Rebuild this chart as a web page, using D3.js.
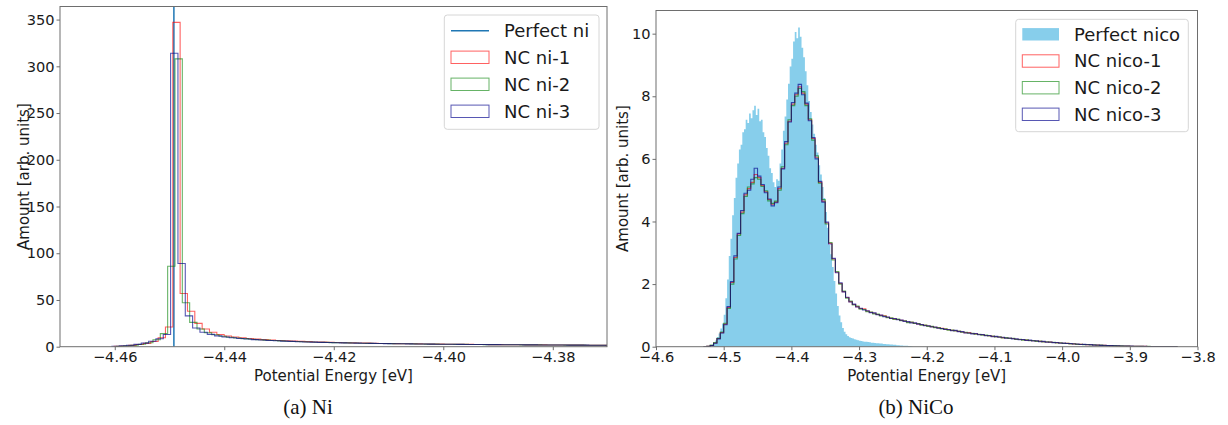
<!DOCTYPE html>
<html>
<head>
<meta charset="utf-8">
<script src="https://cdn.jsdelivr.net/npm/d3@7"></script>
<style>
  html, body { margin: 0; padding: 0; background: #fff; overflow: hidden; }
  svg { display: block; font-family: "DejaVu Sans", sans-serif; }
</style>
</head>
<body>
<svg id="fig" width="1228" height="425"></svg>
<script>
// ---------------- Ni: per-atom potential energy histograms ----------------
const niPerfectEnergy = -4.4492;          // single value of the perfect crystal
const niBinWidth = 0.00134;               // eV
const niNames = ["NC ni-1", "NC ni-2", "NC ni-3"];
const niStarts = [-4.46012, -4.45972, -4.46052];   // left edge of first bin
const niCounts1 = [0.4, 0.8, 1.4, 2.3, 3.6, 5.5, 9.5, 21, 347,
  57, 38, 25, 19, 15.5, 13, 11.5, 10.4, 9.5, 8.8, 8.1, 7.6, 7.1, 6.7, 6.3, 6.0, 5.7, 5.4, 5.1, 4.9,
  4.7, 4.5, 4.3, 4.1, 3.95, 3.8, 3.65, 3.5, 3.4, 3.3, 3.2, 3.1, 3.0, 2.9, 2.8, 2.75, 2.65, 2.6, 2.5,
  2.45, 2.4, 2.3, 2.25, 2.2, 2.15, 2.1, 2.05, 2.0, 1.95, 1.9, 1.85, 1.8, 1.75, 1.7, 1.65, 1.6, 1.55,
  1.5, 1.45, 1.4, 1.35];
const niCounts2 = [0.4, 0.9, 1.5, 2.6, 4.2, 7.5, 14, 86, 308,
  47, 26, 19, 15, 12.8, 11.2, 10.1, 9.3, 8.6, 8.0, 7.5, 7.0, 6.6, 6.2, 5.9, 5.6, 5.3, 5.05, 4.8, 4.6,
  4.4, 4.2, 4.05, 3.9, 3.75, 3.6, 3.5, 3.4, 3.3, 3.2, 3.1, 3.0, 2.9, 2.8, 2.72, 2.65, 2.58, 2.5, 2.44,
  2.38, 2.32, 2.26, 2.2, 2.15, 2.1, 2.05, 2.0, 1.95, 1.9, 1.85, 1.8, 1.76, 1.72, 1.68, 1.64, 1.6, 1.56,
  1.52, 1.48, 1.44, 1.4];
const niCounts3 = [0.5, 1.0, 1.6, 2.5, 3.8, 5.8, 8.5, 13, 314,
  89, 33, 20, 15.5, 13.2, 11.6, 10.4, 9.5, 8.8, 8.2, 7.6, 7.1, 6.7, 6.3, 5.95, 5.65, 5.35, 5.1, 4.85,
  4.65, 4.45, 4.25, 4.1, 3.95, 3.8, 3.65, 3.55, 3.42, 3.32, 3.22, 3.12, 3.02, 2.93, 2.85, 2.77, 2.7,
  2.62, 2.55, 2.48, 2.42, 2.36, 2.3, 2.24, 2.18, 2.13, 2.08, 2.03, 1.98, 1.93, 1.88, 1.84, 1.8, 1.76,
  1.72, 1.68, 1.64, 1.6, 1.56, 1.52, 1.48, 1.44];
const niXDomain = [-4.4700, -4.3701];
const niYDomain = [0, 364];
const niXTicks = [-4.46, -4.44, -4.42, -4.40, -4.38];
const niYTicks = [0, 50, 100, 150, 200, 250, 300, 350];

// ---------------- NiCo: per-atom potential energy histograms ----------------
const nicoPerfectStart = -4.525;
const nicoPerfectBinWidth = 0.0025;
const nicoPerfect = [0.00, 0.01, 0.03, 0.06, 0.12, 0.20, 0.31, 0.42, 0.58, 0.74,
  1.02, 1.55, 2.15, 2.90, 3.45, 4.20, 4.75, 5.40, 5.85, 6.30,
  6.45, 6.85, 6.95, 7.25, 7.15, 7.45, 7.30, 7.55, 7.70, 7.40,
  7.60, 7.20, 7.25, 6.85, 6.70, 6.35, 6.10, 5.70, 5.55, 5.25,
  5.10, 5.35, 5.30, 5.85, 6.30, 6.90, 7.35, 7.90, 8.40, 8.95,
  9.20, 9.75, 10.05, 9.85, 10.20, 9.90, 9.55, 9.25, 8.80, 8.35,
  7.85, 7.50, 7.10, 6.80, 6.45, 6.20, 5.80, 5.50, 5.10, 4.75,
  4.30, 3.80, 3.25, 2.95, 2.55, 2.10, 1.70, 1.30, 1.00, 0.78,
  0.60, 0.48, 0.40, 0.34, 0.30, 0.28, 0.26, 0.24, 0.22, 0.21,
  0.19, 0.18, 0.17, 0.16, 0.16, 0.15, 0.14, 0.13, 0.13, 0.12,
  0.11, 0.11, 0.10, 0.10, 0.09, 0.09, 0.08, 0.08, 0.07, 0.07,
  0.06, 0.06, 0.05, 0.05, 0.04, 0.04, 0.03, 0.03, 0.03, 0.02,
  0.02, 0.01];
const nicoNames = ["Perfect nico", "NC nico-1", "NC nico-2", "NC nico-3"];
const nicoStart = -4.53;
const nicoBinWidth = 0.005;
const nicoCounts1 = [0, 0.01, 0.04, 0.12, 0.26, 0.45, 0.72, 1.25, 2.05, 2.85,
  3.60, 4.30, 4.85, 5.05, 5.25, 5.50, 5.40, 5.15, 4.95, 4.70,
  4.55, 4.62, 5.05, 5.70, 6.50, 7.20, 7.75, 8.05, 8.30, 8.10,
  7.75, 7.25, 6.65, 6.05, 5.25, 4.65, 3.95, 3.30, 2.80, 2.38,
  2.02, 1.76, 1.57, 1.44, 1.35, 1.28, 1.22, 1.21, 1.14, 1.10,
  1.07, 1.03, 1.00, 0.99, 0.94, 0.91, 0.89, 0.87, 0.84, 0.82,
  0.79, 0.78, 0.75, 0.73, 0.70, 0.68, 0.66, 0.64, 0.62, 0.60,
  0.59, 0.56, 0.54, 0.52, 0.51, 0.49, 0.47, 0.45, 0.45, 0.42,
  0.41, 0.39, 0.38, 0.36, 0.35, 0.33, 0.32, 0.31, 0.29, 0.28,
  0.27, 0.26, 0.24, 0.23, 0.22, 0.21, 0.20, 0.19, 0.18, 0.17,
  0.16, 0.15, 0.145, 0.135, 0.13, 0.12, 0.11, 0.105, 0.095, 0.09,
  0.08, 0.075, 0.07, 0.065, 0.06, 0.055, 0.05, 0.046, 0.042, 0.038,
  0.034, 0.03, 0.027, 0.024, 0.021, 0.018, 0.016, 0.014, 0.012, 0.01,
  0.009, 0.008, 0.007, 0.006, 0.005, 0.004, 0.003, 0.003, 0.002, 0.001];
const nicoCounts2 = [0, 0.01, 0.05, 0.13, 0.27, 0.47, 0.75, 1.22, 2.00, 2.80,
  3.55, 4.25, 4.80, 5.10, 5.20, 5.40, 5.35, 5.12, 4.98, 4.66,
  4.58, 4.65, 5.00, 5.75, 6.45, 7.25, 7.70, 8.00, 8.25, 8.15,
  7.70, 7.28, 6.60, 6.10, 5.22, 4.70, 3.92, 3.33, 2.77, 2.40,
  2.00, 1.78, 1.55, 1.46, 1.33, 1.30, 1.20, 1.19, 1.12, 1.11,
  1.05, 1.04, 0.98, 0.98, 0.93, 0.92, 0.87, 0.88, 0.83, 0.83,
  0.77, 0.79, 0.74, 0.74, 0.69, 0.69, 0.65, 0.65, 0.61, 0.61,
  0.57, 0.57, 0.53, 0.53, 0.50, 0.50, 0.46, 0.46, 0.43, 0.43,
  0.40, 0.40, 0.37, 0.37, 0.34, 0.34, 0.31, 0.32, 0.28, 0.29,
  0.26, 0.27, 0.23, 0.24, 0.21, 0.22, 0.19, 0.20, 0.17, 0.18,
  0.15, 0.16, 0.14, 0.14, 0.12, 0.125, 0.10, 0.11, 0.09, 0.095,
  0.075, 0.08, 0.065, 0.07, 0.055, 0.06, 0.047, 0.05, 0.04, 0.04,
  0.032, 0.033, 0.025, 0.026, 0.019, 0.02, 0.015, 0.015, 0.011, 0.011,
  0.008, 0.009, 0.006, 0.007, 0.004, 0.005, 0.003, 0.003, 0.002, 0.001];
const nicoCounts3 = [0, 0.01, 0.04, 0.11, 0.25, 0.44, 0.70, 1.28, 2.08, 2.90,
  3.62, 4.35, 4.90, 5.00, 5.35, 5.70, 5.45, 5.18, 4.92, 4.72,
  4.50, 4.60, 5.10, 5.68, 6.55, 7.18, 7.80, 8.10, 8.38, 8.05,
  7.78, 7.22, 6.68, 6.00, 5.28, 4.62, 3.98, 3.28, 2.82, 2.36,
  2.04, 1.75, 1.58, 1.43, 1.36, 1.27, 1.23, 1.17, 1.15, 1.09,
  1.08, 1.02, 1.01, 0.96, 0.95, 0.90, 0.90, 0.86, 0.85, 0.81,
  0.80, 0.76, 0.76, 0.72, 0.71, 0.67, 0.67, 0.63, 0.63, 0.59,
  0.58, 0.55, 0.55, 0.51, 0.52, 0.48, 0.48, 0.44, 0.44, 0.41,
  0.42, 0.38, 0.39, 0.35, 0.36, 0.32, 0.33, 0.30, 0.30, 0.27,
  0.28, 0.25, 0.25, 0.22, 0.23, 0.20, 0.21, 0.18, 0.19, 0.16,
  0.17, 0.14, 0.15, 0.13, 0.135, 0.11, 0.115, 0.10, 0.10, 0.085,
  0.085, 0.07, 0.075, 0.06, 0.065, 0.05, 0.055, 0.042, 0.045, 0.034,
  0.036, 0.028, 0.029, 0.022, 0.023, 0.017, 0.018, 0.013, 0.013, 0.009,
  0.01, 0.007, 0.008, 0.005, 0.006, 0.003, 0.004, 0.002, 0.002, 0.001];
const nicoXDomain = [-4.6, -3.8];
const nicoYDomain = [0, 10.74];
const nicoXTicks = [-4.6, -4.5, -4.4, -4.3, -4.2, -4.1, -4.0, -3.9, -3.8];
const nicoYTicks = [0, 2, 4, 6, 8, 10];

// ---------------- styling ----------------
const spineColor = "#6e6e6e";
const textColor = "#1a1a1a";
const perfectLineColor = "#1f77b4";
const skyblue = "#87ceeb";
const seriesColors = ["#ff0000", "#008000", "#00008b"];
const seriesOpacity = [0.62, 0.6, 0.66];
const tickFont = "14.6px";
const labelFont = "15px";

const svg = d3.select("#fig");

// Outline of a histogram drawn as a step curve, mapped through the scales.
function stepPath(x, y, start, width, counts, closed) {
  let p = `M${x(start)},${y(0)}`;
  counts.forEach((c, i) => {
    p += `V${y(c)}H${x(start + (i + 1) * width)}`;
  });
  p += `V${y(0)}`;
  return closed ? p + "Z" : p;
}

function makePanel(opt) {
  const g = svg.append("g");
  const x = d3.scaleLinear().domain(opt.xDomain).range([opt.left, opt.right]);
  const y = d3.scaleLinear().domain(opt.yDomain).range([opt.bottom, opt.top]);

  const clipId = opt.id + "-clip";
  svg.append("clipPath").attr("id", clipId)
    .append("rect")
    .attr("x", opt.left).attr("y", opt.top)
    .attr("width", opt.right - opt.left).attr("height", opt.bottom - opt.top);
  const plot = g.append("g").attr("clip-path", `url(#${clipId})`);

  // axes
  const xAxis = d3.axisBottom(x).tickValues(opt.xTicks).tickFormat(opt.xFormat)
    .tickSizeInner(3.5).tickSizeOuter(0).tickPadding(1.7);
  const yAxis = d3.axisLeft(y).tickValues(opt.yTicks).tickFormat(opt.yFormat)
    .tickSizeInner(3.5).tickSizeOuter(0).tickPadding(2);
  const gx = g.append("g").attr("transform", `translate(0,${opt.bottom})`).call(xAxis);
  const gy = g.append("g").attr("transform", `translate(${opt.left},0)`).call(yAxis);
  [gx, gy].forEach(a => {
    a.select(".domain").remove();
    a.selectAll(".tick line").attr("stroke", spineColor).attr("stroke-width", 1);
    a.selectAll(".tick text").attr("fill", textColor)
      .style("font-family", "DejaVu Sans").style("font-size", tickFont);
  });

  // labels
  g.append("text")
    .attr("x", (opt.left + opt.right) / 2).attr("y", 380.5)
    .attr("text-anchor", "middle").attr("fill", textColor)
    .style("font-size", labelFont)
    .text("Potential Energy [eV]");
  g.append("text")
    .attr("transform", `translate(${opt.ylabelX},${(opt.top + opt.bottom) / 2}) rotate(-90)`)
    .attr("text-anchor", "middle").attr("fill", textColor)
    .style("font-size", labelFont)
    .text("Amount [arb. units]");
  g.append("text")
    .attr("x", opt.captionX).attr("y", 414)
    .attr("text-anchor", "middle").attr("fill", "#111")
    .style("font-family", "Liberation Serif, serif").style("font-size", "21px")
    .text(opt.caption);

  return { g, plot, x, y, opt };
}

function drawFrame(p) {
  const o = p.opt;
  p.g.append("rect")
    .attr("x", o.left).attr("y", o.top)
    .attr("width", o.right - o.left).attr("height", o.bottom - o.top)
    .attr("fill", "none").attr("stroke", spineColor).attr("stroke-width", 1);
}

function drawLegend(g, box, rows) {
  const lg = g.append("g");
  lg.append("rect")
    .attr("x", box.x0).attr("y", box.y0)
    .attr("width", box.x1 - box.x0).attr("height", box.y1 - box.y0)
    .attr("rx", 3).attr("fill", "#fff").attr("fill-opacity", 0.8)
    .attr("stroke", "#d6d6d6").attr("stroke-width", 1);
  rows.forEach((r, i) => {
    const cy = box.rowY[i];
    if (r.kind === "line") {
      lg.append("line")
        .attr("x1", box.hx0).attr("x2", box.hx1).attr("y1", cy).attr("y2", cy)
        .attr("stroke", r.color).attr("stroke-width", 1.5);
    } else if (r.kind === "fill") {
      lg.append("rect")
        .attr("x", box.hx0).attr("y", cy - 6.2)
        .attr("width", box.hx1 - box.hx0).attr("height", 12.4)
        .attr("fill", r.color);
    } else {
      lg.append("rect")
        .attr("x", box.hx0).attr("y", cy - 6.2)
        .attr("width", box.hx1 - box.hx0).attr("height", 12.4)
        .attr("fill", "none").attr("stroke", r.color)
        .attr("stroke-opacity", r.opacity).attr("stroke-width", 1);
    }
    lg.append("text")
      .attr("x", box.tx).attr("y", cy).attr("dy", "0.36em")
      .attr("fill", textColor).style("font-size", "18px")
      .text(r.label);
  });
}

// ---------------- panel (a): Ni ----------------
const pa = makePanel({
  id: "ni", left: 60, right: 607, top: 6.5, bottom: 346.7,
  xDomain: niXDomain, yDomain: niYDomain,
  xTicks: niXTicks, yTicks: niYTicks,
  xFormat: d3.format(".2f"), yFormat: d3.format("d"),
  ylabelX: 28.5, captionX: 308, caption: "(a) Ni"
});
pa.plot.append("line")
  .attr("x1", pa.x(niPerfectEnergy)).attr("x2", pa.x(niPerfectEnergy))
  .attr("y1", pa.y(niYDomain[0])).attr("y2", pa.y(niYDomain[1]))
  .attr("stroke", perfectLineColor).attr("stroke-width", 1.5);
[niCounts1, niCounts2, niCounts3].forEach((counts, i) => {
  pa.plot.append("path")
    .attr("d", stepPath(pa.x, pa.y, niStarts[i], niBinWidth, counts, false))
    .attr("fill", "none").attr("stroke", seriesColors[i])
    .attr("stroke-opacity", seriesOpacity[i]).attr("stroke-width", 1.1);
});
drawFrame(pa);
drawLegend(pa.g, {
  x0: 444.3, x1: 599, y0: 15, y1: 129.3, hx0: 451, hx1: 489, tx: 504,
  rowY: [30.7, 57.3, 84.3, 111.3]
}, [
  { kind: "line", color: perfectLineColor, label: "Perfect ni" },
  { kind: "step", color: seriesColors[0], opacity: seriesOpacity[0], label: niNames[0] },
  { kind: "step", color: seriesColors[1], opacity: seriesOpacity[1], label: niNames[1] },
  { kind: "step", color: seriesColors[2], opacity: seriesOpacity[2], label: niNames[2] }
]);

// ---------------- panel (b): NiCo ----------------
const pb = makePanel({
  id: "nico", left: 656, right: 1197.5, top: 10.5, bottom: 346.7,
  xDomain: nicoXDomain, yDomain: nicoYDomain,
  xTicks: nicoXTicks, yTicks: nicoYTicks,
  xFormat: d3.format(".1f"), yFormat: d3.format("d"),
  ylabelX: 628, captionX: 916, caption: "(b) NiCo"
});
pb.plot.append("path")
  .attr("d", stepPath(pb.x, pb.y, nicoPerfectStart, nicoPerfectBinWidth, nicoPerfect, true))
  .attr("fill", skyblue).attr("stroke", "none");
[nicoCounts1, nicoCounts2, nicoCounts3].forEach((counts, i) => {
  pb.plot.append("path")
    .attr("d", stepPath(pb.x, pb.y, nicoStart, nicoBinWidth, counts, false))
    .attr("fill", "none").attr("stroke", seriesColors[i])
    .attr("stroke-opacity", seriesOpacity[i]).attr("stroke-width", 1.1);
});
drawFrame(pb);
drawLegend(pb.g, {
  x0: 1015.7, x1: 1188.3, y0: 19.3, y1: 131.7, hx0: 1022.3, hx1: 1059, tx: 1074,
  rowY: [34.3, 61, 87.7, 114.3]
}, [
  { kind: "fill", color: skyblue, label: nicoNames[0] },
  { kind: "step", color: seriesColors[0], opacity: seriesOpacity[0], label: nicoNames[1] },
  { kind: "step", color: seriesColors[1], opacity: seriesOpacity[1], label: nicoNames[2] },
  { kind: "step", color: seriesColors[2], opacity: seriesOpacity[2], label: nicoNames[3] }
]);
</script>
</body>
</html>
